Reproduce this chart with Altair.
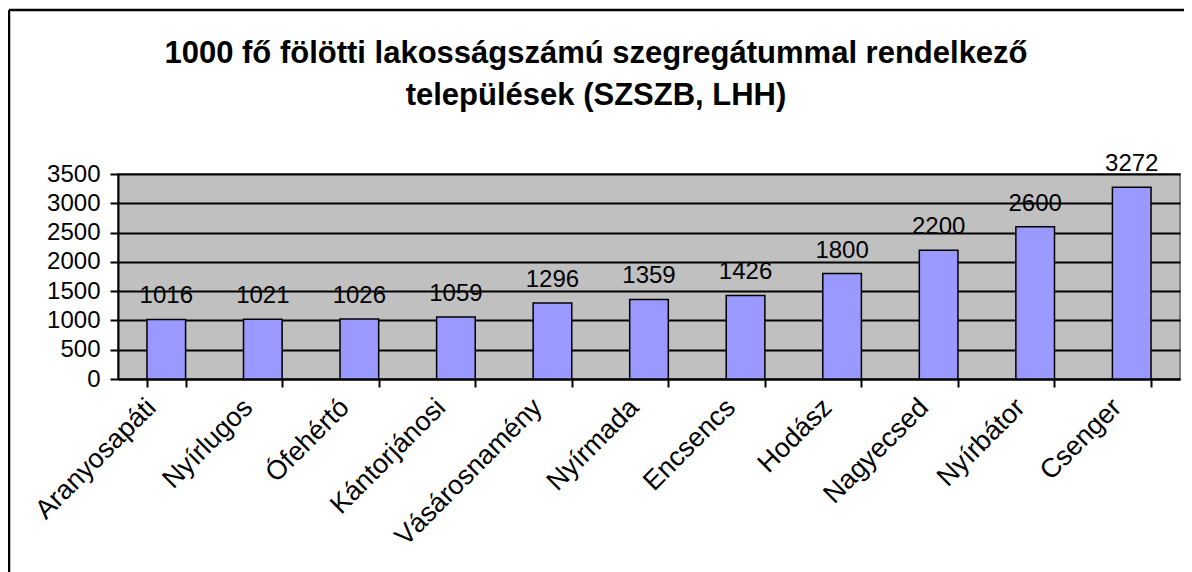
import altair as alt
import pandas as pd

categories = ["Aranyosapáti", "Nyírlugos", "Ófehértó", "Kántorjánosi", "Vásárosnamény",
              "Nyírmada", "Encsencs", "Hodász", "Nagyecsed", "Nyírbátor", "Csenger"]
values = [1016, 1021, 1026, 1059, 1296, 1359, 1426, 1800, 2200, 2600, 3272]
y_ticks = [0, 500, 1000, 1500, 2000, 2500, 3000, 3500]
title_lines = ["1000 fő fölötti lakosságszámú szegregátummal rendelkező",
               "települések (SZSZB, LHH)"]

df = pd.DataFrame({"telepules": categories, "ertek": values})

FONT = "Liberation Sans"

x_enc = alt.X("telepules:N", sort=categories, title=None,
              scale=alt.Scale(paddingInner=0.6, paddingOuter=0.3),
              axis=alt.Axis(labelAngle=-45, labelAlign="right", labelBaseline="middle",
                            labelFontSize=27, labelFont=FONT, labelColor="black",
                            labelPadding=16, labelOffset=-15, labelLimit=0,
                            labelOverlap=False,
                            tickBand="extent", tickSize=8, tickColor="black", tickWidth=2,
                            domainColor="black", domainWidth=2, grid=False))
y_axis = alt.Axis(values=y_ticks, tickCount=8, format="d", labelOverlap=False,
                  labelFontSize=24, labelFont=FONT,
                  labelColor="black", labelPadding=10,
                  tickSize=8, tickColor="black", tickWidth=2,
                  domainColor="black", domainWidth=2,
                  grid=True, gridColor="black", gridWidth=2)
y_enc = alt.Y("ertek:Q", title=None,
              scale=alt.Scale(domain=[0, 3500], nice=False), axis=y_axis)

base = alt.Chart(df)
bars = base.mark_bar(color="#9999FF", stroke="black", strokeWidth=1.5).encode(x=x_enc, y=y_enc)
labels = base.mark_text(baseline="alphabetic", dy=-16, fontSize=24, font=FONT,
                        color="black").encode(x=x_enc, y=y_enc, text="ertek:Q")

frame_df = pd.DataFrame({"k": [0]})
left_line = alt.Chart(frame_df).mark_rule(color="black", strokeWidth=2.5).encode(
    x=alt.value(-109), y=alt.value(-164), y2=alt.value(420))
top_line = alt.Chart(frame_df).mark_rule(color="black", strokeWidth=2.5).encode(
    x=alt.value(-109), x2=alt.value(1100), y=alt.value(-164))

title1 = alt.Chart(frame_df).mark_text(
    text=title_lines[0], fontSize=31, font=FONT, fontWeight="bold", color="black",
    align="center", baseline="alphabetic").encode(x=alt.value(478), y=alt.value(-111))
title2 = alt.Chart(frame_df).mark_text(
    text=title_lines[1], fontSize=31, font=FONT, fontWeight="bold", color="black",
    align="center", baseline="alphabetic").encode(x=alt.value(478), y=alt.value(-69))

chart = alt.layer(bars, labels, left_line, top_line, title1, title2).properties(
    width=1062, height=205,
    autosize=alt.AutoSizeParams(type="none"),
    padding={"left": 110, "top": 166, "right": 4, "bottom": 193},
).configure_view(fill="#C0C0C0", stroke="#808080", strokeWidth=2)

chart.save("out.html", embed_options={"renderer": "svg", "actions": False})
